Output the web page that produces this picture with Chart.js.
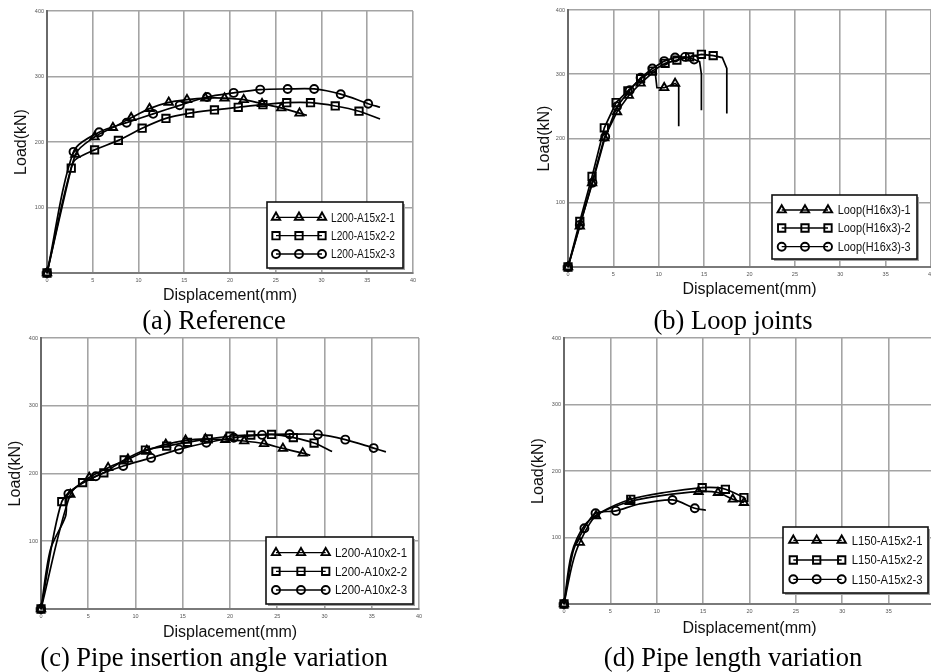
<!DOCTYPE html>
<html><head><meta charset="utf-8">
<script src="https://cdn.jsdelivr.net/npm/chart.js@4/dist/chart.umd.min.js"></script>
<style>
html,body{margin:0;padding:0;background:#fff;width:931px;height:672px;overflow:hidden;position:relative;}
.panel{position:absolute;overflow:hidden;}
.panel canvas{position:absolute;left:0;}
.cap{position:absolute;font-family:'Liberation Serif','Times New Roman',serif;font-size:26.5px;line-height:30px;color:#000;white-space:nowrap;transform:translate(-50%,-50%);}
</style></head><body>
<div class="panel" style="left:0;top:0;width:465px;height:336px"><canvas id="ca" width="465" height="336" style="top:0;width:465px;height:336px"></canvas></div>
<div class="panel" style="left:465px;top:0;width:466px;height:336px"><canvas id="cb" width="480" height="336" style="top:0;width:480px;height:336px"></canvas></div>
<div class="panel" style="left:0;top:336px;width:465px;height:336px"><canvas id="cc" width="465" height="346" style="top:-10px;width:465px;height:346px"></canvas></div>
<div class="panel" style="left:465px;top:336px;width:466px;height:336px"><canvas id="cd" width="480" height="346" style="top:-10px;width:480px;height:346px"></canvas></div>
<div class="cap" style="left:214px;top:320px">(a) Reference</div>
<div class="cap" style="left:733px;top:320px">(b) Loop joints</div>
<div class="cap" style="left:214px;top:657px">(c) Pipe insertion angle variation</div>
<div class="cap" style="left:733px;top:657px">(d) Pipe length variation</div>
<script>
// ---------- tick labels / axis ranges ----------
const xTicks = [0, 5, 10, 15, 20, 25, 30, 35, 40];
const yTicks = [0, 100, 200, 300, 400];
const xTitle = 'Displacement(mm)';
const yTitle = 'Load(kN)';

// ---------- (a) Reference ----------
const aLabels = ['L200-A15x2-1', 'L200-A15x2-2', 'L200-A15x2-3'];
const aX1 = [0, 3.1, 5.2, 7.2, 9.2, 11.2, 13.3, 15.3, 17.3, 19.4, 21.5, 23.5, 25.6, 27.6, 28.4];
const aY1 = [0, 181, 207.6, 222, 237, 251, 260.5, 264.6, 267, 267, 264.6, 258.5, 252, 244, 240.7];
const aMX1 = [0, 3.1, 5.2, 7.2, 9.2, 11.2, 13.3, 15.3, 17.3, 19.4, 21.5, 23.5, 25.6, 27.6];
const aMY1 = [0, 181, 207.6, 222, 237, 251, 260.5, 264.6, 267, 267, 264.6, 258.5, 252, 244];
const aX2 = [0, 2.65, 3.1, 5.2, 7.8, 10.4, 13, 15.6, 18.3, 20.9, 23.6, 26.2, 28.8, 31.5, 34.1, 36.4];
const aY2 = [0, 160, 173, 188, 202.5, 221, 236, 244, 249, 253, 257, 260, 260, 255, 247, 235];
const aMX2 = [0, 2.65, 5.2, 7.8, 10.4, 13, 15.6, 18.3, 20.9, 23.6, 26.2, 28.8, 31.5, 34.1];
const aMY2 = [0, 160, 188, 202.5, 221, 236, 244, 249, 253, 257, 260, 260, 255, 247];
const aX3 = [0, 2.9, 5.7, 8.7, 11.6, 14.5, 17.5, 20.4, 23.3, 26.3, 29.2, 32.1, 35.1, 36.4];
const aY3 = [0, 185, 215, 229.5, 243, 256, 268.7, 275, 280, 281, 281, 273, 258.5, 253];
const aMX3 = [0, 2.9, 5.7, 8.7, 11.6, 14.5, 17.5, 20.4, 23.3, 26.3, 29.2, 32.1, 35.1];
const aMY3 = [0, 185, 215, 229.5, 243, 256, 268.7, 275, 280, 281, 281, 273, 258.5];

// ---------- (b) Loop joints ----------
const bLabels = ['Loop(H16x3)-1', 'Loop(H16x3)-2', 'Loop(H16x3)-3'];
const bX1 = [0, 1.3, 2.65, 4.0, 5.4, 6.7, 8.0, 9.3, 9.6, 9.8, 10.6, 11.8, 12.2, 12.2];
const bY1 = [0, 63.4, 131, 201, 241.5, 267, 286, 302, 304, 279, 279, 285.7, 281, 219];
const bMX1 = [0, 1.3, 2.65, 4.0, 5.4, 6.7, 8.0, 10.6, 11.8];
const bMY1 = [0, 63.4, 131, 201, 241.5, 267, 286, 279, 285.7];
const bX2 = [0, 1.3, 2.65, 4.0, 5.3, 6.6, 8.0, 9.3, 10.7, 12.0, 13.4, 14.7, 16.0, 17.0, 17.5, 17.5];
const bY2 = [0, 71, 141, 216.6, 256, 274, 293, 305, 317, 322, 327, 331, 329, 326, 309, 239];
const bMX2 = [0, 1.3, 2.65, 4.0, 5.3, 6.6, 8.0, 9.3, 10.7, 12.0, 13.4, 14.7, 16.0];
const bMY2 = [0, 71, 141, 216.6, 256, 274, 293, 305, 317, 322, 327, 331, 329];
const bX3 = [0, 1.3, 2.7, 4.1, 5.4, 6.8, 8.0, 9.3, 10.6, 11.8, 12.9, 13.9, 14.5, 14.7, 14.7];
const bY3 = [0, 65.5, 131, 202.6, 250, 275, 294.5, 309, 320.5, 326, 327, 323, 319.5, 300, 244];
const bMX3 = [0, 1.3, 2.7, 4.1, 5.4, 6.8, 8.0, 9.3, 10.6, 11.8, 12.9, 13.9];
const bMY3 = [0, 65.5, 131, 202.6, 250, 275, 294.5, 309, 320.5, 326, 327, 323];

// ---------- (c) Pipe insertion angle variation ----------
const cLabels = ['L200-A10x2-1', 'L200-A10x2-2', 'L200-A10x2-3'];
const cX1 = [0, 3.1, 5.1, 7.1, 9.2, 11.2, 13.2, 15.3, 17.4, 19.5, 21.5, 23.6, 25.6, 27.7, 28.5];
const cY1 = [0, 169, 194, 208.6, 221, 234, 243, 249, 251, 250, 248, 244, 237, 230, 227];
const cMX1 = [0, 3.1, 5.1, 7.1, 9.2, 11.2, 13.2, 15.3, 17.4, 19.5, 21.5, 23.6, 25.6, 27.7];
const cMY1 = [0, 169, 194, 208.6, 221, 234, 243, 249, 251, 250, 248, 244, 237, 230];
const cX2 = [0, 2.2, 4.4, 6.65, 8.8, 11.05, 13.3, 15.5, 17.7, 20, 22.2, 24.4, 26.7, 28.9, 30.8];
const cY2 = [0, 158.5, 186.5, 201, 220, 234.6, 240.5, 246, 251, 255, 256.7, 257.7, 253, 245, 232.6];
const cMX2 = [0, 2.2, 4.4, 6.65, 8.8, 11.05, 13.3, 15.5, 17.7, 20, 22.2, 24.4, 26.7, 28.9];
const cMY2 = [0, 158.5, 186.5, 201, 220, 234.6, 240.5, 246, 251, 255, 256.7, 257.7, 253, 245];
const cX3 = [0, 1.0, 2.6, 2.9, 5.8, 8.7, 11.65, 14.6, 17.5, 20.4, 23.4, 26.3, 29.3, 32.2, 35.2, 36.5];
const cY3 = [0, 88, 137, 170, 196, 211, 223, 235.6, 245.4, 252.8, 257, 258, 257.7, 250, 237.5, 232];
const cMX3 = [0, 2.9, 5.8, 8.7, 11.65, 14.6, 17.5, 20.4, 23.4, 26.3, 29.3, 32.2, 35.2];
const cMY3 = [0, 170, 196, 211, 223, 235.6, 245.4, 252.8, 257, 258, 257.7, 250, 237.5];

// ---------- (d) Pipe length variation ----------
const dLabels = ['L150-A15x2-1', 'L150-A15x2-2', 'L150-A15x2-3'];
const dX1 = [0, 0.9, 1.7, 3.45, 7.1, 10.5, 14.5, 16.6, 18.2, 19.4];
const dY1 = [0, 60, 92.5, 132.5, 154, 163, 169, 167.5, 157.5, 152.5];
const dMX1 = [0, 1.7, 3.45, 7.1, 14.5, 16.6, 18.2, 19.4];
const dMY1 = [0, 92.5, 132.5, 154, 169, 167.5, 157.5, 152.5];
const dX2 = [0, 0.8, 2.2, 4.0, 7.2, 11.0, 14.9, 16.5, 17.4, 19.4, 19.6];
const dY2 = [0, 75, 118, 138, 157.5, 168, 175, 175, 172.5, 160, 157];
const dMX2 = [0, 7.2, 14.9, 17.4, 19.4];
const dMY2 = [0, 157.5, 175, 172.5, 160];
const dX3 = [0, 1.0, 2.2, 3.4, 5.6, 8.0, 11.7, 14.1, 15.3];
const dY3 = [0, 80, 114, 136.5, 140, 150, 156.5, 144, 141];
const dMX3 = [0, 2.2, 3.4, 5.6, 11.7, 14.1];
const dMY3 = [0, 114, 136.5, 140, 156.5, 144];

// ---------- helpers ----------
Chart.defaults.font.family = "'Liberation Sans', Arial, sans-serif";
const styles = ['triangle', 'rect', 'circle'];
const radii = {triangle: 4.8, rect: 5.2, circle: 4.0};
const pts = (xs, ys) => xs.map((x, i) => ({x: x, y: ys[i]}));

function drawMarker(ctx, style, r, x, y) {
  ctx.beginPath();
  if (style === 'triangle') {
    for (let k = 0; k < 3; k++) {
      const a = k * 2 * Math.PI / 3;
      const px = x + Math.sin(a) * r, py = y - Math.cos(a) * r;
      if (k === 0) ctx.moveTo(px, py); else ctx.lineTo(px, py);
    }
    ctx.closePath();
  } else if (style === 'rect') {
    const s = Math.SQRT1_2 * r;
    ctx.rect(x - s, y - s, 2 * s, 2 * s);
  } else {
    ctx.arc(x, y, r, 0, Math.PI * 2);
  }
  ctx.stroke();
}

const boxLegend = {
  id: 'boxLegend',
  afterDraw(chart, args, o) {
    const ca = chart.chartArea, ctx = chart.ctx;
    const x0 = ca.right - o.right - o.w, y0 = ca.bottom - o.bottom - o.h;
    ctx.save();
    ctx.fillStyle = '#a0a0a0';
    ctx.fillRect(x0 + 2, y0 + 2, o.w, o.h);
    ctx.fillStyle = '#fff';
    ctx.fillRect(x0, y0, o.w, o.h);
    ctx.strokeStyle = '#111';
    ctx.lineWidth = 1.6;
    ctx.strokeRect(x0, y0, o.w, o.h);
    o.labels.forEach((lab, i) => {
      const y = y0 + o.rows[i];
      ctx.strokeStyle = '#000';
      ctx.lineWidth = 1.3;
      ctx.beginPath();
      ctx.moveTo(x0 + o.mx[0], y); ctx.lineTo(x0 + o.mx[2], y);
      ctx.stroke();
      ctx.lineWidth = 1.9;
      o.mx.forEach(m => drawMarker(ctx, styles[i], radii[styles[i]], x0 + m, y));
      ctx.font = "13.5px 'Liberation Sans', Arial, sans-serif";
      ctx.fillStyle = '#111';
      ctx.textBaseline = 'middle';
      const tw = ctx.measureText(lab).width;
      const sx = o.tw / tw;
      ctx.save();
      ctx.translate(x0 + o.tx, y + 0.5);
      ctx.scale(sx, 1);
      ctx.fillText(lab, 0, 0);
      ctx.restore();
    });
    ctx.restore();
  }
};

function makeChart(id, series, labels, L, leg) {
  const datasets = [];
  series.forEach((s, i) => {
    datasets.push({
      data: pts(s[0], s[1]), showLine: true, borderColor: '#000', borderWidth: 1.7,
      pointRadius: 0, tension: L.tension, clip: 3
    });
  });
  series.forEach((s, i) => {
    datasets.push({
      label: labels[i], data: pts(s[2], s[3]), showLine: false,
      pointStyle: styles[i], pointRadius: radii[styles[i]], pointBorderWidth: 1.9,
      pointBorderColor: '#000', pointBackgroundColor: 'rgba(0,0,0,0)', clip: false
    });
  });
  return new Chart(document.getElementById(id), {
    type: 'scatter',
    data: {datasets: datasets},
    options: {
      responsive: false, animation: false, devicePixelRatio: 1,
      layout: {padding: L.pad},
      plugins: {legend: {display: false}, tooltip: {enabled: false}, boxLegend: leg},
      scales: {
        x: {
          type: 'linear', min: 0, max: 40,
          afterBuildTicks: ax => { ax.ticks = xTicks.map(v => ({value: v})); },
          afterFit: ax => { ax.height = L.xH; },
          grid: {color: '#a4a4a4', lineWidth: 1.6, drawTicks: false},
          border: {color: '#7a7a7a', width: 2},
          ticks: {font: {size: 5.5}, color: '#555', padding: 4, maxRotation: 0},
          title: {display: true, text: xTitle, font: {size: 16}, color: '#111', padding: {top: 0, bottom: 4}}
        },
        y: {
          type: 'linear', min: 0, max: 400,
          afterBuildTicks: ax => { ax.ticks = yTicks.map(v => ({value: v})); },
          afterFit: ax => { ax.width = L.yW; },
          grid: {color: '#a4a4a4', lineWidth: 1.6, drawTicks: false},
          border: {color: '#6a6a6a', width: 2},
          ticks: {font: {size: 5.5}, color: '#555', padding: 3},
          title: {display: true, text: yTitle, font: {size: 16}, color: '#111', padding: {top: L.yT, bottom: 0}}
        }
      }
    },
    plugins: [boxLegend]
  });
}

makeChart('ca',
  [[aX1, aY1, aMX1, aMY1], [aX2, aY2, aMX2, aMY2], [aX3, aY3, aMX3, aMY3]], aLabels,
  {pad: {left: 0, top: 11, right: 52, bottom: 27}, yW: 47, xH: 36, yT: 12, tension: 0.3},
  {labels: aLabels, w: 136, h: 66, right: 10, bottom: 5, mx: [9, 32, 55], tx: 64, tw: 64, rows: [15.3, 33.7, 52]});

makeChart('cb',
  [[bX1, bY1, bMX1, bMY1], [bX2, bY2, bMX2, bMY2], [bX3, bY3, bMX3, bMY3]], bLabels,
  {pad: {left: 60, top: 10, right: 14, bottom: 33}, yW: 43, xH: 36, yT: 10, tension: 0},
  {labels: bLabels, w: 145, h: 64, right: 14, bottom: 8, mx: [9.7, 33, 56], tx: 65.7, tw: 73, rows: [15, 33, 51.7]});

makeChart('cc',
  [[cX1, cY1, cMX1, cMY1], [cX2, cY2, cMX2, cMY2], [cX3, cY3, cMX3, cMY3]], cLabels,
  {pad: {left: 0, top: 12, right: 46, bottom: 26}, yW: 41, xH: 37, yT: 6.4, tension: 0.3},
  {labels: cLabels, w: 147, h: 67, right: 6, bottom: 5, mx: [10, 35, 59.7], tx: 69, tw: 72, rows: [15.7, 34.3, 53]});

makeChart('cd',
  [[dX1, dY1, dMX1, dMY1], [dX2, dY2, dMX2, dMY2], [dX3, dY3, dMX3, dMY3]], dLabels,
  {pad: {left: 55, top: 12, right: 10, bottom: 30}, yW: 44, xH: 38, yT: 8.7, tension: 0.3},
  {labels: dLabels, w: 145, h: 66, right: 7, bottom: 11, mx: [10.3, 33.7, 58.7], tx: 68.7, tw: 70.7, rows: [13.3, 33, 52.3]});
</script>
</body></html>
